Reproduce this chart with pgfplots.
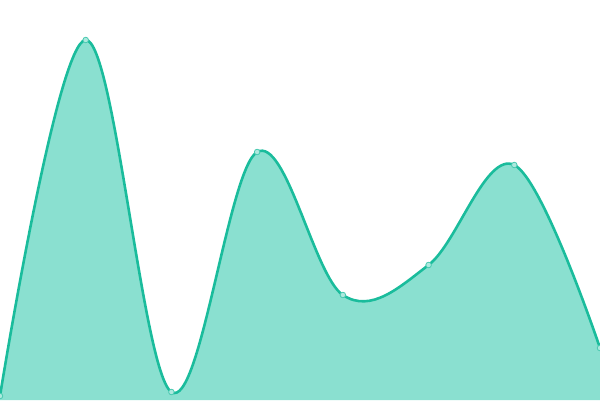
\documentclass[border=0pt]{standalone}
\usepackage{pgfplots}
\pgfplotsset{compat=1.18}
\definecolor{teal1}{HTML}{1ABC9C}
\definecolor{tealfill}{HTML}{8AE0D0}
\begin{document}
\begin{tikzpicture}
\begin{axis}[
    width=600pt, height=400pt,
    scale only axis,
    hide axis,
    xmin=0, xmax=7,
    ymin=0, ymax=400,
    clip marker paths=true,
]
    % filled area
    \addplot[draw=none, fill=tealfill, smooth, tension=0.6] coordinates {
        (0,4) (1,360) (2,8) (3,248) (4,105) (5,135) (6,235) (7,52)
    } \closedcycle;
    % outline with markers
    \addplot[
        teal1, line width=2.6pt, smooth, tension=0.6,
        mark=*, mark size=2.8pt,
        mark options={fill=tealfill!70!white, draw=teal1!80, line width=0.8pt}
    ] coordinates {
        (0,4) (1,360) (2,8) (3,248) (4,105) (5,135) (6,235) (7,52)
    };
\end{axis}
\pgfresetboundingbox
\useasboundingbox (current axis.south west) rectangle (current axis.north east);
\end{tikzpicture}
\end{document}
